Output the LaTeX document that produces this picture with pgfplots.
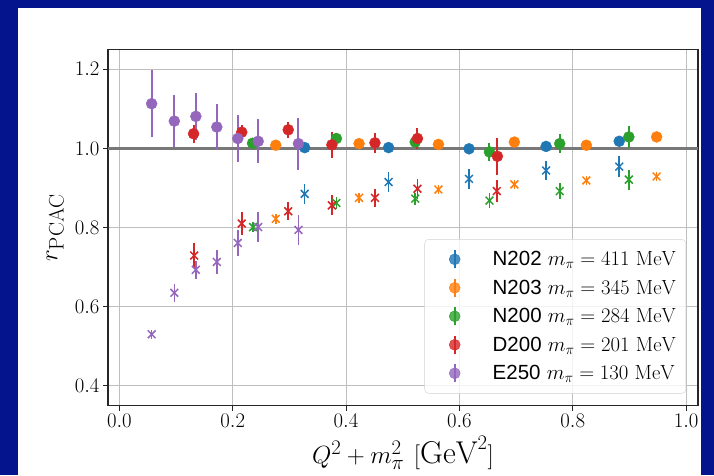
\documentclass[border=0pt]{standalone}
\usepackage{fontspec}
\setsansfont{Liberation Sans}
\usepackage{pgfplots}
\usepackage{pgfplotstable}
\pgfplotsset{compat=1.18}

\definecolor{slideblue}{RGB}{3,20,140}
\definecolor{cA}{HTML}{1F77B4}
\definecolor{cB}{HTML}{FF7F0E}
\definecolor{cC}{HTML}{2CA02C}
\definecolor{cD}{HTML}{D62728}
\definecolor{cE}{HTML}{9467BD}
\definecolor{gridgray}{RGB}{190,190,190}
\definecolor{refgray}{RGB}{120,120,120}

% circles: r_PCAC, crosses: second estimator
\pgfplotstableread{
x y e
0.327 1.002 0.006
0.475 1.002 0.006
0.617 0.999 0.006
0.753 1.005 0.007
0.882 1.018 0.008
}\NtwotwoC
\pgfplotstableread{
x y e
0.327 0.885 0.025
0.475 0.915 0.025
0.617 0.923 0.025
0.753 0.944 0.025
0.882 0.954 0.027
}\NtwotwoX
\pgfplotstableread{
x y e
0.276 1.008 0.005
0.423 1.012 0.005
0.563 1.010 0.005
0.697 1.016 0.005
0.824 1.008 0.005
0.948 1.029 0.005
}\NtwothreeC
\pgfplotstableread{
x y e
0.276 0.822 0.012
0.423 0.875 0.012
0.563 0.896 0.012
0.697 0.909 0.012
0.824 0.919 0.012
0.948 0.929 0.012
}\NtwothreeX
\pgfplotstableread{
x y e
0.235 1.013 0.010
0.383 1.025 0.014
0.522 1.016 0.012
0.653 0.991 0.023
0.777 1.012 0.024
0.899 1.029 0.028
}\NtwozeroC
\pgfplotstableread{
x y e
0.236 0.801 0.012
0.383 0.862 0.015
0.522 0.873 0.015
0.653 0.868 0.018
0.777 0.892 0.020
0.899 0.921 0.025
}\NtwozeroX
\pgfplotstableread{
x y e
0.131 1.037 0.023
0.216 1.041 0.018
0.298 1.047 0.020
0.375 1.009 0.033
0.451 1.014 0.026
0.526 1.025 0.027
0.667 0.980 0.047
}\DtwoC
\pgfplotstableread{
x y e
0.132 0.729 0.032
0.216 0.810 0.028
0.298 0.841 0.023
0.375 0.856 0.025
0.451 0.875 0.023
0.526 0.898 0.025
0.666 0.892 0.027
}\DtwoX
\pgfplotstableread{
x y e
0.057 1.113 0.085
0.097 1.069 0.065
0.135 1.081 0.060
0.172 1.054 0.057
0.209 1.025 0.060
0.245 1.018 0.056
0.316 1.012 0.066
}\EtwoC
\pgfplotstableread{
x y e
0.057 0.530 0.012
0.097 0.635 0.023
0.135 0.693 0.023
0.172 0.713 0.030
0.209 0.761 0.032
0.245 0.801 0.038
0.316 0.794 0.038
}\EtwoX

\pgfplotsset{
  legimg/.style={legend image code/.code={
    \draw[line width=2pt] (22pt,-9pt) -- (22pt,9pt);
    \fill (22pt,0pt) circle (5.5pt);
    \path[draw=none, fill=none] (0pt,0pt) -- (58pt,0pt);}},
  circ/.style={only marks, mark=*, mark size=5.5pt, color=#1, legimg,
    error bars/.cd, y dir=both, y explicit,
    error bar style={line width=2pt, #1}, error mark=none},
  cross/.style={only marks, mark=x, mark size=5.5pt, color=#1,
    mark options={line width=1.5pt}, forget plot,
    error bars/.cd, y dir=both, y explicit,
    error bar style={line width=1.6pt, #1}, error mark=none},
}

\begin{document}
\begin{tikzpicture}[x=1pt,y=1pt]
\useasboundingbox (0,0) rectangle (714,475);
\fill[slideblue] (0,0) rectangle (714,475);
\fill[white] (18,0) rectangle (701,467);
\begin{axis}[
  at={(108pt,69.5pt)}, anchor=south west,
  scale only axis, width=590pt, height=356pt,
  xmin=-0.02, xmax=1.021, ymin=0.35, ymax=1.25,
  xtick={0,0.2,...,1.0}, ytick={0.4,0.6,...,1.2},
  xticklabel style={/pgf/number format/.cd, fixed, fixed zerofill, precision=1},
  yticklabel style={/pgf/number format/.cd, fixed, fixed zerofill, precision=1},
  tick label style={font=\fontsize{20}{24}\selectfont},
  tick pos=left, tick align=outside, major tick length=5pt,
  tick style={line width=1pt, black!85},
  axis line style={line width=1.3pt, black!85},
  grid=major, major grid style={line width=1pt, gridgray},
  xlabel={$Q^2+m_\pi^2\ [\mathrm{GeV}^2]$},
  ylabel={$r_{\mathrm{PCAC}}$},
  label style={font=\fontsize{30}{36}\selectfont},
  xlabel style={inner sep=0pt, yshift=-5pt, font=\fontsize{31.5}{36}\selectfont},
  ylabel style={yshift=4pt},
  legend cell align=left,
  legend style={at={(1,0)}, anchor=south east, xshift=-12pt, yshift=12pt,
    font=\fontsize{20.5}{24}\selectfont, draw=gray!35, rounded corners=4pt,
    fill=white, fill opacity=0.8, text opacity=1, draw opacity=1,
    row sep=8.5pt, inner xsep=8pt, inner ysep=10pt},
]
\addplot[refgray, line width=2.5pt, forget plot] coordinates {(-0.1,1.0) (1.1,1.0)};

\addplot[circ=cA] table[x=x,y=y,y error=e] {\NtwotwoC};
\addlegendentry{\textsf{N202} $m_\pi = 411\ \mathrm{MeV}$}
\addplot[circ=cB] table[x=x,y=y,y error=e] {\NtwothreeC};
\addlegendentry{\textsf{N203} $m_\pi = 345\ \mathrm{MeV}$}
\addplot[circ=cC] table[x=x,y=y,y error=e] {\NtwozeroC};
\addlegendentry{\textsf{N200} $m_\pi = 284\ \mathrm{MeV}$}
\addplot[circ=cD] table[x=x,y=y,y error=e] {\DtwoC};
\addlegendentry{\textsf{D200} $m_\pi = 201\ \mathrm{MeV}$}
\addplot[circ=cE] table[x=x,y=y,y error=e] {\EtwoC};
\addlegendentry{\textsf{E250} $m_\pi = 130\ \mathrm{MeV}$}

\addplot[cross=cA] table[x=x,y=y,y error=e] {\NtwotwoX};
\addplot[cross=cB] table[x=x,y=y,y error=e] {\NtwothreeX};
\addplot[cross=cC] table[x=x,y=y,y error=e] {\NtwozeroX};
\addplot[cross=cD] table[x=x,y=y,y error=e] {\DtwoX};
\addplot[cross=cE] table[x=x,y=y,y error=e] {\EtwoX};
\end{axis}
\end{tikzpicture}
\end{document}
